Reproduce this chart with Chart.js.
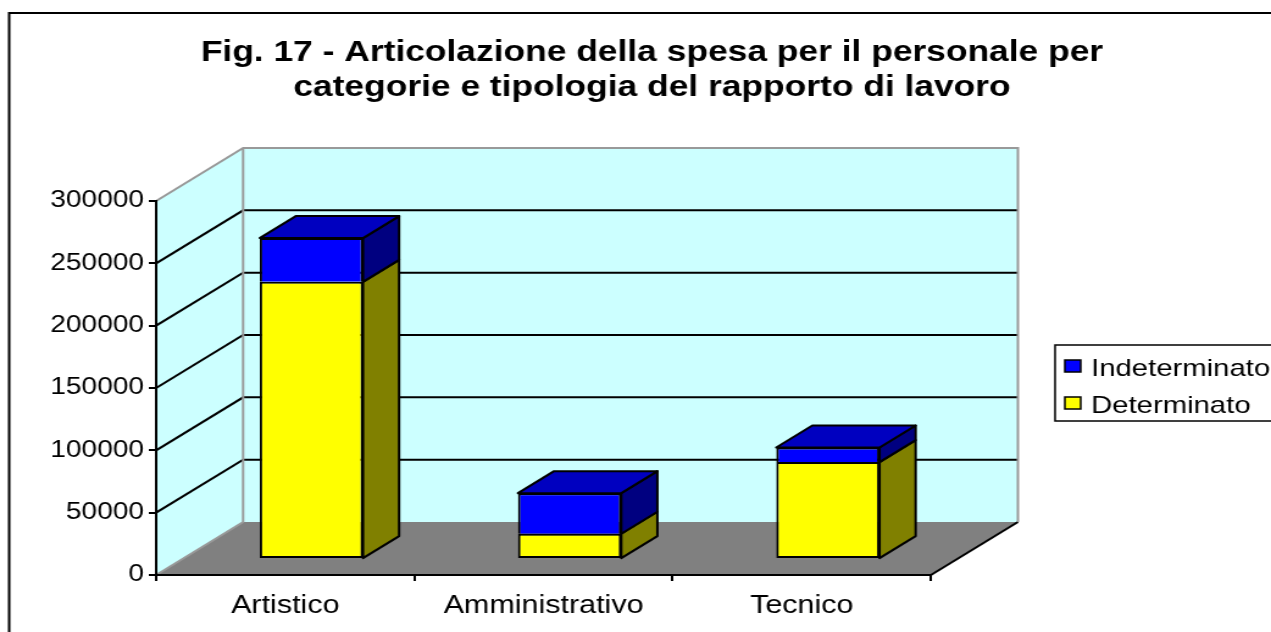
<!DOCTYPE html>
<html>
<head>
<meta charset="utf-8">
<script src="https://cdn.jsdelivr.net/npm/chart.js@4.4.1/dist/chart.umd.min.js"></script>
<style>
  html, body { margin: 0; padding: 0; background: #fff; overflow: hidden; }
  /* the original picture is stretched sideways, so the canvas is drawn narrower and widened by CSS */
  #chart { display: block; width: 1271px !important; height: 632px !important; }
</style>
</head>
<body>
<canvas id="chart" width="1042" height="632" style="width:1271px;height:632px"></canvas>
<script>
const categories = ['Artistico', 'Amministrativo', 'Tecnico'];
const determinato = [222400, 20300, 77800];
const indeterminato = [35100, 32600, 11700];
const yTicks = [0, 50000, 100000, 150000, 200000, 250000, 300000];
const titleLines = [
    'Fig. 17 - Articolazione della spesa per il personale per',
    'categorie e tipologia del rapporto di lavoro'
];

const FONT = '"Liberation Sans", Arial, sans-serif';
// depth of the 3D box (walls), and where the bars sit inside it
const DX = 71.3, DY = 53;
const BAR_FRONT = 0.3, BAR_DEPTH = 0.415;

const poly = (ctx, pts, fill) => {
    ctx.beginPath();
    pts.forEach(([x, y], i) => i ? ctx.lineTo(x, y) : ctx.moveTo(x, y));
    ctx.closePath();
    if (fill) { ctx.fillStyle = fill; ctx.fill(); }
};

// walls, floor and gridlines behind everything
const walls = {
    id: 'walls',
    beforeDraw(chart) {
        const { ctx, chartArea: a, scales: { y } } = chart;
        ctx.save();
        ctx.fillStyle = '#fff';
        ctx.fillRect(0, 0, chart.width, chart.height);

        poly(ctx, [[a.left, a.bottom], [a.left, a.top], [a.left + DX, a.top - DY], [a.left + DX, a.bottom - DY]], '#ccffff');
        ctx.fillStyle = '#ccffff';
        ctx.fillRect(a.left + DX, a.top - DY, a.right - a.left, a.bottom - a.top);
        poly(ctx, [[a.left, a.bottom], [a.right, a.bottom], [a.right + DX, a.bottom - DY], [a.left + DX, a.bottom - DY]], '#808080');

        ctx.strokeStyle = '#000';
        ctx.lineWidth = 2;
        yTicks.slice(1, -1).forEach(v => {
            const py = y.getPixelForValue(v);
            ctx.beginPath();
            ctx.moveTo(a.left, py);
            ctx.lineTo(a.left + DX, py - DY);
            ctx.lineTo(a.right + DX, py - DY);
            ctx.stroke();
        });
        ctx.beginPath();
        ctx.moveTo(a.right, a.bottom);
        ctx.lineTo(a.right + DX, a.bottom - DY);
        ctx.stroke();

        ctx.strokeStyle = '#999';
        ctx.beginPath();
        ctx.moveTo(a.left, a.bottom);
        ctx.lineTo(a.left + DX, a.bottom - DY);
        ctx.lineTo(a.left + DX, a.top - DY);
        ctx.moveTo(a.left, a.top);
        ctx.lineTo(a.left + DX, a.top - DY);
        ctx.lineTo(a.right + DX, a.top - DY);
        ctx.lineTo(a.right + DX, a.bottom - DY);
        ctx.stroke();
        ctx.restore();
    }
};

// bars are pushed back into the box, then get their side and top faces
const bars3d = {
    id: 'bars3d',
    beforeDatasetsDraw(chart) {
        chart.ctx.save();
        chart.ctx.translate(DX * BAR_FRONT, -DY * BAR_FRONT);
    },
    afterDatasetsDraw(chart) {
        const ctx = chart.ctx;
        const bx = DX * BAR_DEPTH, by = DY * BAR_DEPTH;
        ctx.strokeStyle = '#000';
        ctx.lineWidth = 2;
        ctx.lineJoin = 'round';
        chart.data.labels.forEach((_, i) => {
            let top = null;
            chart.data.datasets.forEach((ds, d) => {
                const el = chart.getDatasetMeta(d).data[i];
                const l = el.x - el.width / 2, r = el.x + el.width / 2;
                const t = Math.min(el.y, el.base), b = Math.max(el.y, el.base);
                poly(ctx, [[r, t], [r + bx, t - by], [r + bx, b - by], [r, b]], ds.sideColor);
                ctx.stroke();
                if (!top || t < top.t) top = { l, r, t, color: ds.topColor };
            });
            poly(ctx, [[top.l, top.t], [top.l + bx, top.t - by], [top.r + bx, top.t - by], [top.r, top.t]], top.color);
            ctx.stroke();
        });
        ctx.restore();
    }
};

// title, boxed legend and the outer frame
const decor = {
    id: 'decor',
    afterDraw(chart) {
        const ctx = chart.ctx;
        ctx.save();
        ctx.fillStyle = '#000';
        ctx.textAlign = 'center';
        ctx.textBaseline = 'alphabetic';
        ctx.font = `bold 29px ${FONT}`;
        titleLines.forEach((t, i) => ctx.fillText(t, 534.5, 61 + i * 35));

        ctx.strokeStyle = '#000';
        ctx.lineWidth = 1.5;
        ctx.strokeRect(865, 345, 400, 76);
        ctx.font = `24px ${FONT}`;
        ctx.textAlign = 'left';
        chart.data.datasets.slice().reverse().forEach((ds, i) => {
            const base = 376 + i * 37;
            ctx.fillStyle = ds.backgroundColor;
            ctx.fillRect(873, base - 16, 13, 12);
            ctx.lineWidth = 1.5;
            ctx.strokeRect(873, base - 16, 13, 12);
            ctx.fillStyle = '#000';
            ctx.fillText(ds.label, 894.5, base);
        });

        ctx.lineWidth = 2;
        ctx.strokeRect(7.5, 13, 2000, 2000);
        ctx.restore();
    }
};

const axisGrid = {
    display: true,
    drawOnChartArea: false,
    drawTicks: true,
    tickLength: 6,
    color: '#000',
    lineWidth: 2
};

new Chart(document.getElementById('chart'), {
    type: 'bar',
    data: {
        labels: categories,
        datasets: [
            {
                label: 'Determinato',
                data: determinato,
                backgroundColor: '#ffff00',
                sideColor: '#808000',
                topColor: '#c0c000',
                borderColor: '#000',
                borderWidth: 2,
                borderSkipped: false
            },
            {
                label: 'Indeterminato',
                data: indeterminato,
                backgroundColor: '#0000ff',
                sideColor: '#000080',
                topColor: '#0000c0',
                borderColor: '#000',
                borderWidth: 2,
                borderSkipped: 'bottom'
            }
        ]
    },
    options: {
        responsive: false,
        animation: false,
        devicePixelRatio: 1,
        layout: { padding: { top: 201, right: 278.8, bottom: 0, left: 0 } },
        datasets: { bar: { barPercentage: 0.4, categoryPercentage: 1 } },
        plugins: {
            legend: { display: false },
            title: { display: false },
            tooltip: { enabled: false }
        },
        scales: {
            x: {
                stacked: true,
                afterFit: s => { s.height = 57; },
                grid: { ...axisGrid, offset: true },
                border: { display: true, color: '#000', width: 2 },
                ticks: { color: '#000', font: { family: FONT, size: 25 }, padding: 10, maxRotation: 0 }
            },
            y: {
                stacked: true,
                min: 0,
                max: 300000,
                afterFit: s => { s.width = 128; },
                afterBuildTicks: s => { s.ticks = yTicks.map(v => ({ value: v })); },
                grid: axisGrid,
                border: { display: true, color: '#000', width: 2 },
                ticks: { color: '#000', font: { family: FONT, size: 23 }, padding: 4, callback: v => String(v) }
            }
        }
    },
    plugins: [walls, bars3d, decor]
});
</script>
</body>
</html>
